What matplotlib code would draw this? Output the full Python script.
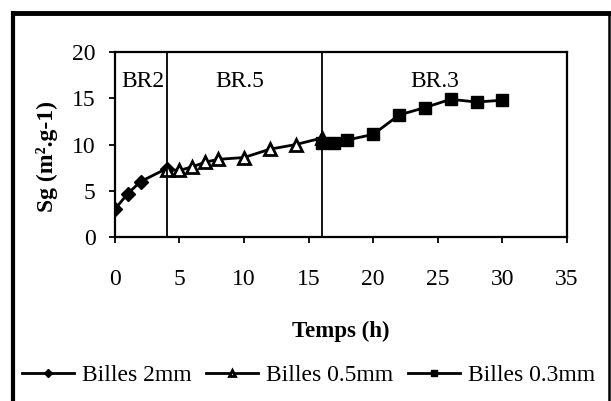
import matplotlib
matplotlib.use('Agg')
import matplotlib.pyplot as plt
from matplotlib.lines import Line2D

# data
t_2mm = [0, 1, 2, 4]
sg_2mm = [3.0, 4.7, 6.0, 7.4]
t_05mm = [4, 5, 6, 7, 8, 10, 12, 14, 16]
sg_05mm = [7.3, 7.2, 7.6, 8.1, 8.4, 8.6, 9.5, 10.0, 10.7]
t_03mm = [16, 17, 18, 20, 22, 24, 26, 28, 30]
sg_03mm = [10.2, 10.2, 10.5, 11.1, 13.2, 14.0, 14.9, 14.6, 14.8]
zones = [4, 16]
zone_labels = ['BR2', 'BR.5', 'BR.3']
zone_label_x = [2.15, 9.7, 24.8]
labels = ['Billes 2mm', 'Billes 0.5mm', 'Billes 0.3mm']

plt.rcParams['font.family'] = ['Liberation Serif', 'DejaVu Serif']

fig = plt.figure(figsize=(6.11, 4.01), dpi=100)
ax = fig.add_axes([0.188, 0.409, 0.740, 0.461])

ax.plot(t_2mm, sg_2mm, color='black', lw=2, marker='D', ms=7, label=labels[0])
ax.plot(t_05mm, sg_05mm, color='black', lw=2, marker='^', ms=8,
        markerfacecolor='white', markeredgecolor='black', mew=2, label=labels[1])
ax.plot(t_03mm, sg_03mm, color='black', lw=2, marker='s', ms=9, label=labels[2])

for z in zones:
    ax.axvline(z, color='black', lw=1.3)
for lab, x in zip(zone_labels, zone_label_x):
    ax.text(x, 16.8, lab, ha='center', va='center', fontsize=17)

ax.set_xlim(0, 35)
ax.set_ylim(0, 20)
ax.set_xticks(range(0, 36, 5))
ax.set_yticks(range(0, 21, 5))
ax.tick_params(axis='both', labelsize=17, direction='out', length=4, width=1.3)
ax.tick_params(axis='x', pad=19)
ax.tick_params(axis='y', pad=10)
for s in ax.spines.values():
    s.set_linewidth(1.6)

ax.set_xlabel('Temps (h)', fontsize=16.5, fontweight='bold', labelpad=22)
fig.text(0.077, 0.61, 'Sg (m².g-1)', rotation=90, ha='center', va='center',
         fontsize=17, fontweight='bold')

ax.legend(loc='center', bbox_to_anchor=(0.505, 0.064), bbox_transform=fig.transFigure,
          ncol=3, frameon=False, fontsize=17, markerscale=0.55, handlelength=2.2,
          handletextpad=0.35, columnspacing=0.6)

# outer frame
fig.add_artist(Line2D([0.0213, 0.0213], [0, 0.9676], transform=fig.transFigure, color='black', lw=3))
fig.add_artist(Line2D([0.0213, 0.996], [0.9676, 0.9676], transform=fig.transFigure, color='black', lw=3.5))
fig.add_artist(Line2D([0.996, 0.996], [0.9676, 0], transform=fig.transFigure, color='black', lw=1.8))

fig.savefig('out.png', dpi=100)
